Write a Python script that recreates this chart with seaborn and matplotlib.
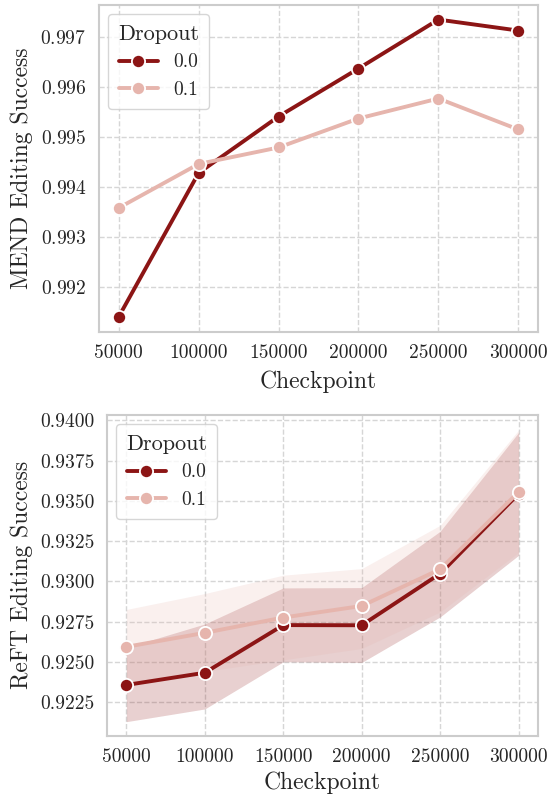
import numpy as np
import pandas as pd
import matplotlib
matplotlib.use("Agg")
import matplotlib.pyplot as plt
from matplotlib.ticker import MultipleLocator, FormatStrFormatter
import seaborn as sns

# ---------------- data ----------------
checkpoints = [50000, 100000, 150000, 200000, 250000, 300000]
dropouts = ["0.0", "0.1"]

mend_d00 = [0.99140, 0.99428, 0.99541, 0.99637, 0.99735, 0.99713]
mend_d01 = [0.99358, 0.99446, 0.99479, 0.99537, 0.99577, 0.99515]

reft_d00 = [0.92356, 0.92432, 0.92728, 0.92727, 0.93048, 0.93545]
reft_d01 = [0.92593, 0.92680, 0.92775, 0.92847, 0.93075, 0.93555]

reft_d00_low = [0.92128, 0.92207, 0.92500, 0.92496, 0.92779, 0.93162]
reft_d00_high = [0.92589, 0.92735, 0.92959, 0.92961, 0.93311, 0.93925]
reft_d01_low = [0.92360, 0.92440, 0.92512, 0.92583, 0.92810, 0.93180]
reft_d01_high = [0.92825, 0.92924, 0.93038, 0.93079, 0.93348, 0.93940]

colors = {"0.0": "#8C1515", "0.1": "#E6B5AD"}

# ---------------- style ----------------
sns.set_theme(style="whitegrid")
plt.rcParams["font.family"] = ["cmr10", "DejaVu Serif"]
plt.rcParams["mathtext.fontset"] = "cm"
plt.rcParams["axes.formatter.use_mathtext"] = True
plt.rcParams["axes.unicode_minus"] = False

def long_df(a, b):
    return pd.DataFrame({
        "Checkpoint": checkpoints * 2,
        "value": list(a) + list(b),
        "Dropout": [dropouts[0]] * len(checkpoints) + [dropouts[1]] * len(checkpoints),
    })

fig = plt.figure(figsize=(5.49, 7.98), dpi=100)
ax1 = fig.add_axes([0.1798, 0.5843, 0.8007, 0.4098])
ax2 = fig.add_axes([0.1944, 0.0777, 0.7861, 0.4026])

line_kw = dict(marker="o", markersize=9.5, markeredgecolor="white",
               markeredgewidth=1.3, linewidth=2.8)

# top plot
sns.lineplot(data=long_df(mend_d00, mend_d01), x="Checkpoint", y="value",
             hue="Dropout", hue_order=dropouts, palette=colors,
             errorbar=None, ax=ax1, **line_kw)
ax1.set_ylabel("MEND Editing Success", fontsize=17, labelpad=5)
ax1.set_xlabel("Checkpoint", fontsize=17, labelpad=6)
ax1.yaxis.set_major_locator(MultipleLocator(0.001))

# bottom plot: bands then lines
ax2.fill_between(checkpoints, reft_d00_low, reft_d00_high, color=colors["0.0"],
                 alpha=0.2, linewidth=0, zorder=1)
ax2.fill_between(checkpoints, reft_d01_low, reft_d01_high, color=colors["0.1"],
                 alpha=0.2, linewidth=0, zorder=1)
sns.lineplot(data=long_df(reft_d00, reft_d01), x="Checkpoint", y="value",
             hue="Dropout", hue_order=dropouts, palette=colors,
             errorbar=None, ax=ax2, **line_kw)
ax2.set_ylabel("ReFT Editing Success", fontsize=17, labelpad=5)
ax2.set_xlabel("Checkpoint", fontsize=17, labelpad=4)
ax2.yaxis.set_major_locator(MultipleLocator(0.0025))
ax2.yaxis.set_major_formatter(FormatStrFormatter("%.4f"))
ax2.set_ylim(0.92039, 0.94035)

for ax in (ax1, ax2):
    ax.set_xticks(checkpoints)
    ax.set_xticklabels([str(c) for c in checkpoints])
    ax.tick_params(axis="both", labelsize=14, length=0)
    ax.tick_params(axis="y", pad=9)
    ax.tick_params(axis="x", pad=9)
    ax.grid(True, linestyle="--", color="#d6d6d6", linewidth=1.0)
    for s in ax.spines.values():
        s.set_color("#cccccc")
        s.set_linewidth(1.5)
    leg = ax.legend(title="Dropout", loc="upper left", fontsize=14,
                    title_fontsize=16, frameon=True, borderpad=0.5)
    leg.get_frame().set_edgecolor("#cccccc")

fig.savefig("out.png", dpi=100)
